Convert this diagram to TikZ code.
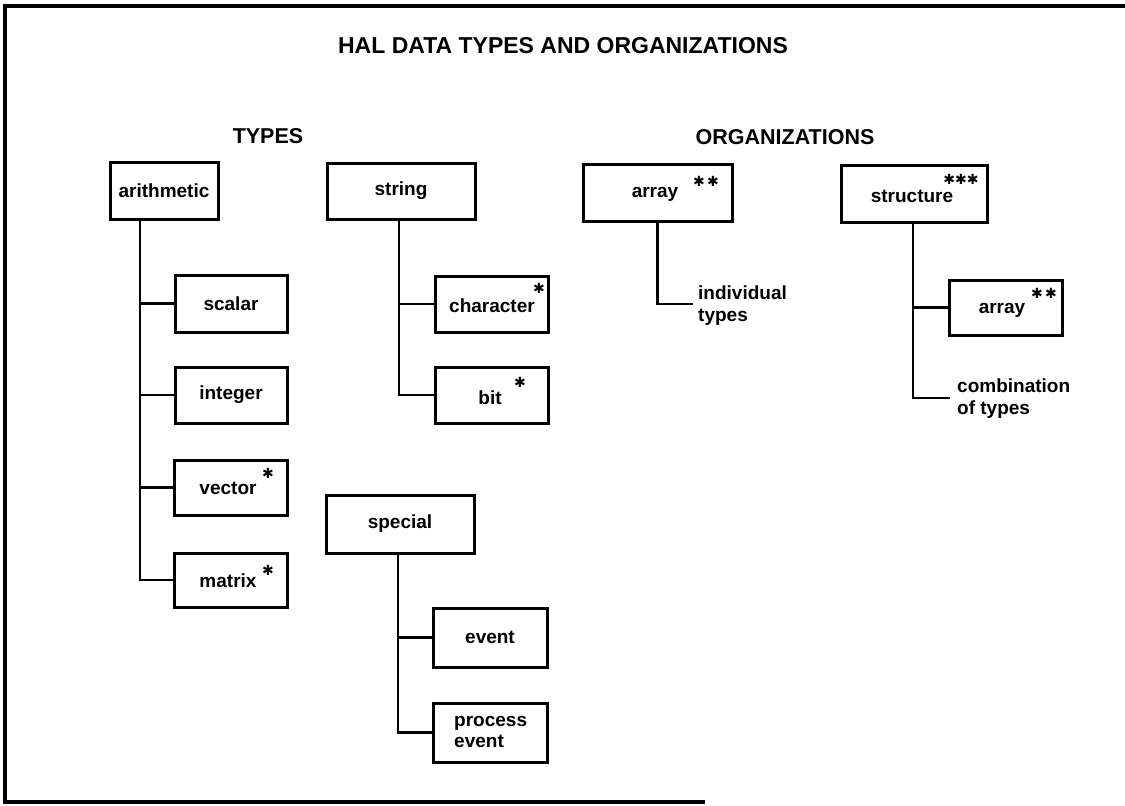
\documentclass[tikz,border=0pt]{standalone}
\usepackage{fontspec}
\setmainfont{Liberation Sans}
\newfontfamily\symfont{DejaVu Sans}
\begin{document}
\begin{tikzpicture}[x=1pt,y=-1pt,
  box/.style={draw, line width=3pt, inner sep=0pt, font=\fontsize{19}{22}\selectfont\bfseries},
  conn/.style={line width=2.2pt},
  frame/.style={line width=3.2pt},
  lbl/.style={inner sep=0pt, font=\fontsize{19}{22}\selectfont\bfseries},
  head/.style={inner sep=0pt, font=\fontsize{21.5}{24}\selectfont\bfseries},
  ast/.style={inner sep=0pt, font=\symfont\fontsize{14}{14}\selectfont}
]
\useasboundingbox (0,0) rectangle (1125,806);
% frame
\coordinate (ftr) at (1125,6);
\coordinate (ftl) at (5,6);
\coordinate (fbl) at (5,802);
\coordinate (fbr) at (705,802);
\draw[frame] (ftr) -- (ftl) -- (fbl) -- (fbr);

% headings
\node[head, font=\fontsize{23}{26}\selectfont\bfseries] (title) at (563,46) {HAL DATA TYPES AND ORGANIZATIONS};
\node[head] (types) at (268,136) {TYPES};
\node[head] (orgs) at (785,137) {ORGANIZATIONS};

% arithmetic
\node[box, minimum width=108pt, minimum height=57pt] (arith) at (164,190.5) {arithmetic};
\node[box, minimum width=112pt, minimum height=57pt] (scalar) at (231,303.5) {scalar};
\node[box, minimum width=112pt, minimum height=56pt] (integer) at (231,395) {integer};
\node[box, minimum width=113pt, minimum height=55pt] (vector) at (230.5,487.5) {};
\node[lbl] (vectort) at (228,488) {vector};
\node[ast] (vectora) at (268,473) {✱};
\node[box, minimum width=113pt, minimum height=54pt] (matrix) at (230.5,580) {};
\node[lbl] (matrixt) at (228,581) {matrix};
\node[ast] (matrixa) at (268,570) {✱};
\coordinate (arithtrunk) at (140,219);
\draw[conn] (arithtrunk) |- (matrix.west);
\draw[conn] (arithtrunk |- scalar.west) -- (scalar.west);
\draw[conn] (arithtrunk |- integer.west) -- (integer.west);
\draw[conn] (arithtrunk |- vector.west) -- (vector.west);

% string
\node[box, minimum width=148pt, minimum height=56pt] (string) at (401,191) {string};
\node[box, minimum width=113pt, minimum height=56pt] (character) at (491.5,304) {};
\node[lbl] (charactert) at (492,306) {character};
\node[ast] (charactera) at (539,288) {✱};
\node[box, minimum width=113pt, minimum height=56pt] (bit) at (491.5,395) {};
\node[lbl] (bitt) at (490,398) {bit};
\node[ast] (bita) at (520,382) {✱};
\coordinate (stringtrunk) at (399,219);
\draw[conn] (stringtrunk) |- (bit.west);
\draw[conn] (stringtrunk |- character.west) -- (character.west);

% special
\node[box, minimum width=148pt, minimum height=58pt] (special) at (400,524) {special};
\node[box, minimum width=114pt, minimum height=59pt] (event) at (490,637.5) {event};
\node[box, minimum width=114pt, minimum height=59pt] (process) at (490,732.5) {};
\node[lbl, align=left, anchor=west, font=\fontsize{19}{21}\selectfont\bfseries] (processt) at (454,732) {process\\event};
\coordinate (specialtrunk) at (398,553);
\draw[conn] (specialtrunk) |- (process.west);
\draw[conn] (specialtrunk |- event.west) -- (event.west);

% organizations: array
\node[box, minimum width=149pt, minimum height=57pt] (array) at (657.5,192.5) {};
\node[lbl] (arrayt) at (655,194) {array};
\node[ast] (arraya) at (706,181) {✱\,✱};
\node[lbl, align=left, anchor=west, font=\fontsize{19}{22}\selectfont\bfseries] (indiv) at (698,306) {individual\\types};
\coordinate (arraylend) at (693,304);
\draw[conn] (array.south) |- (arraylend);

% organizations: structure
\node[box, minimum width=146pt, minimum height=57pt] (structure) at (914,193.5) {};
\node[lbl] (structuret) at (912,196) {structure};
\node[ast] (structurea) at (961,179) {✱✱✱};
\node[box, minimum width=113pt, minimum height=55pt] (iarray) at (1005.5,307.5) {};
\node[lbl] (iarrayt) at (1002,310) {array};
\node[ast] (iarraya) at (1044,293) {✱\,✱};
\node[lbl, align=left, anchor=west, font=\fontsize{19}{22}\selectfont\bfseries] (combo) at (957,399) {combination\\of types};
\coordinate (structtrunk) at (913,222);
\coordinate (structlend) at (950,398);
\draw[conn] (structtrunk) |- (structlend);
\draw[conn] (structtrunk |- iarray.west) -- (iarray.west);
\end{tikzpicture}
\end{document}
